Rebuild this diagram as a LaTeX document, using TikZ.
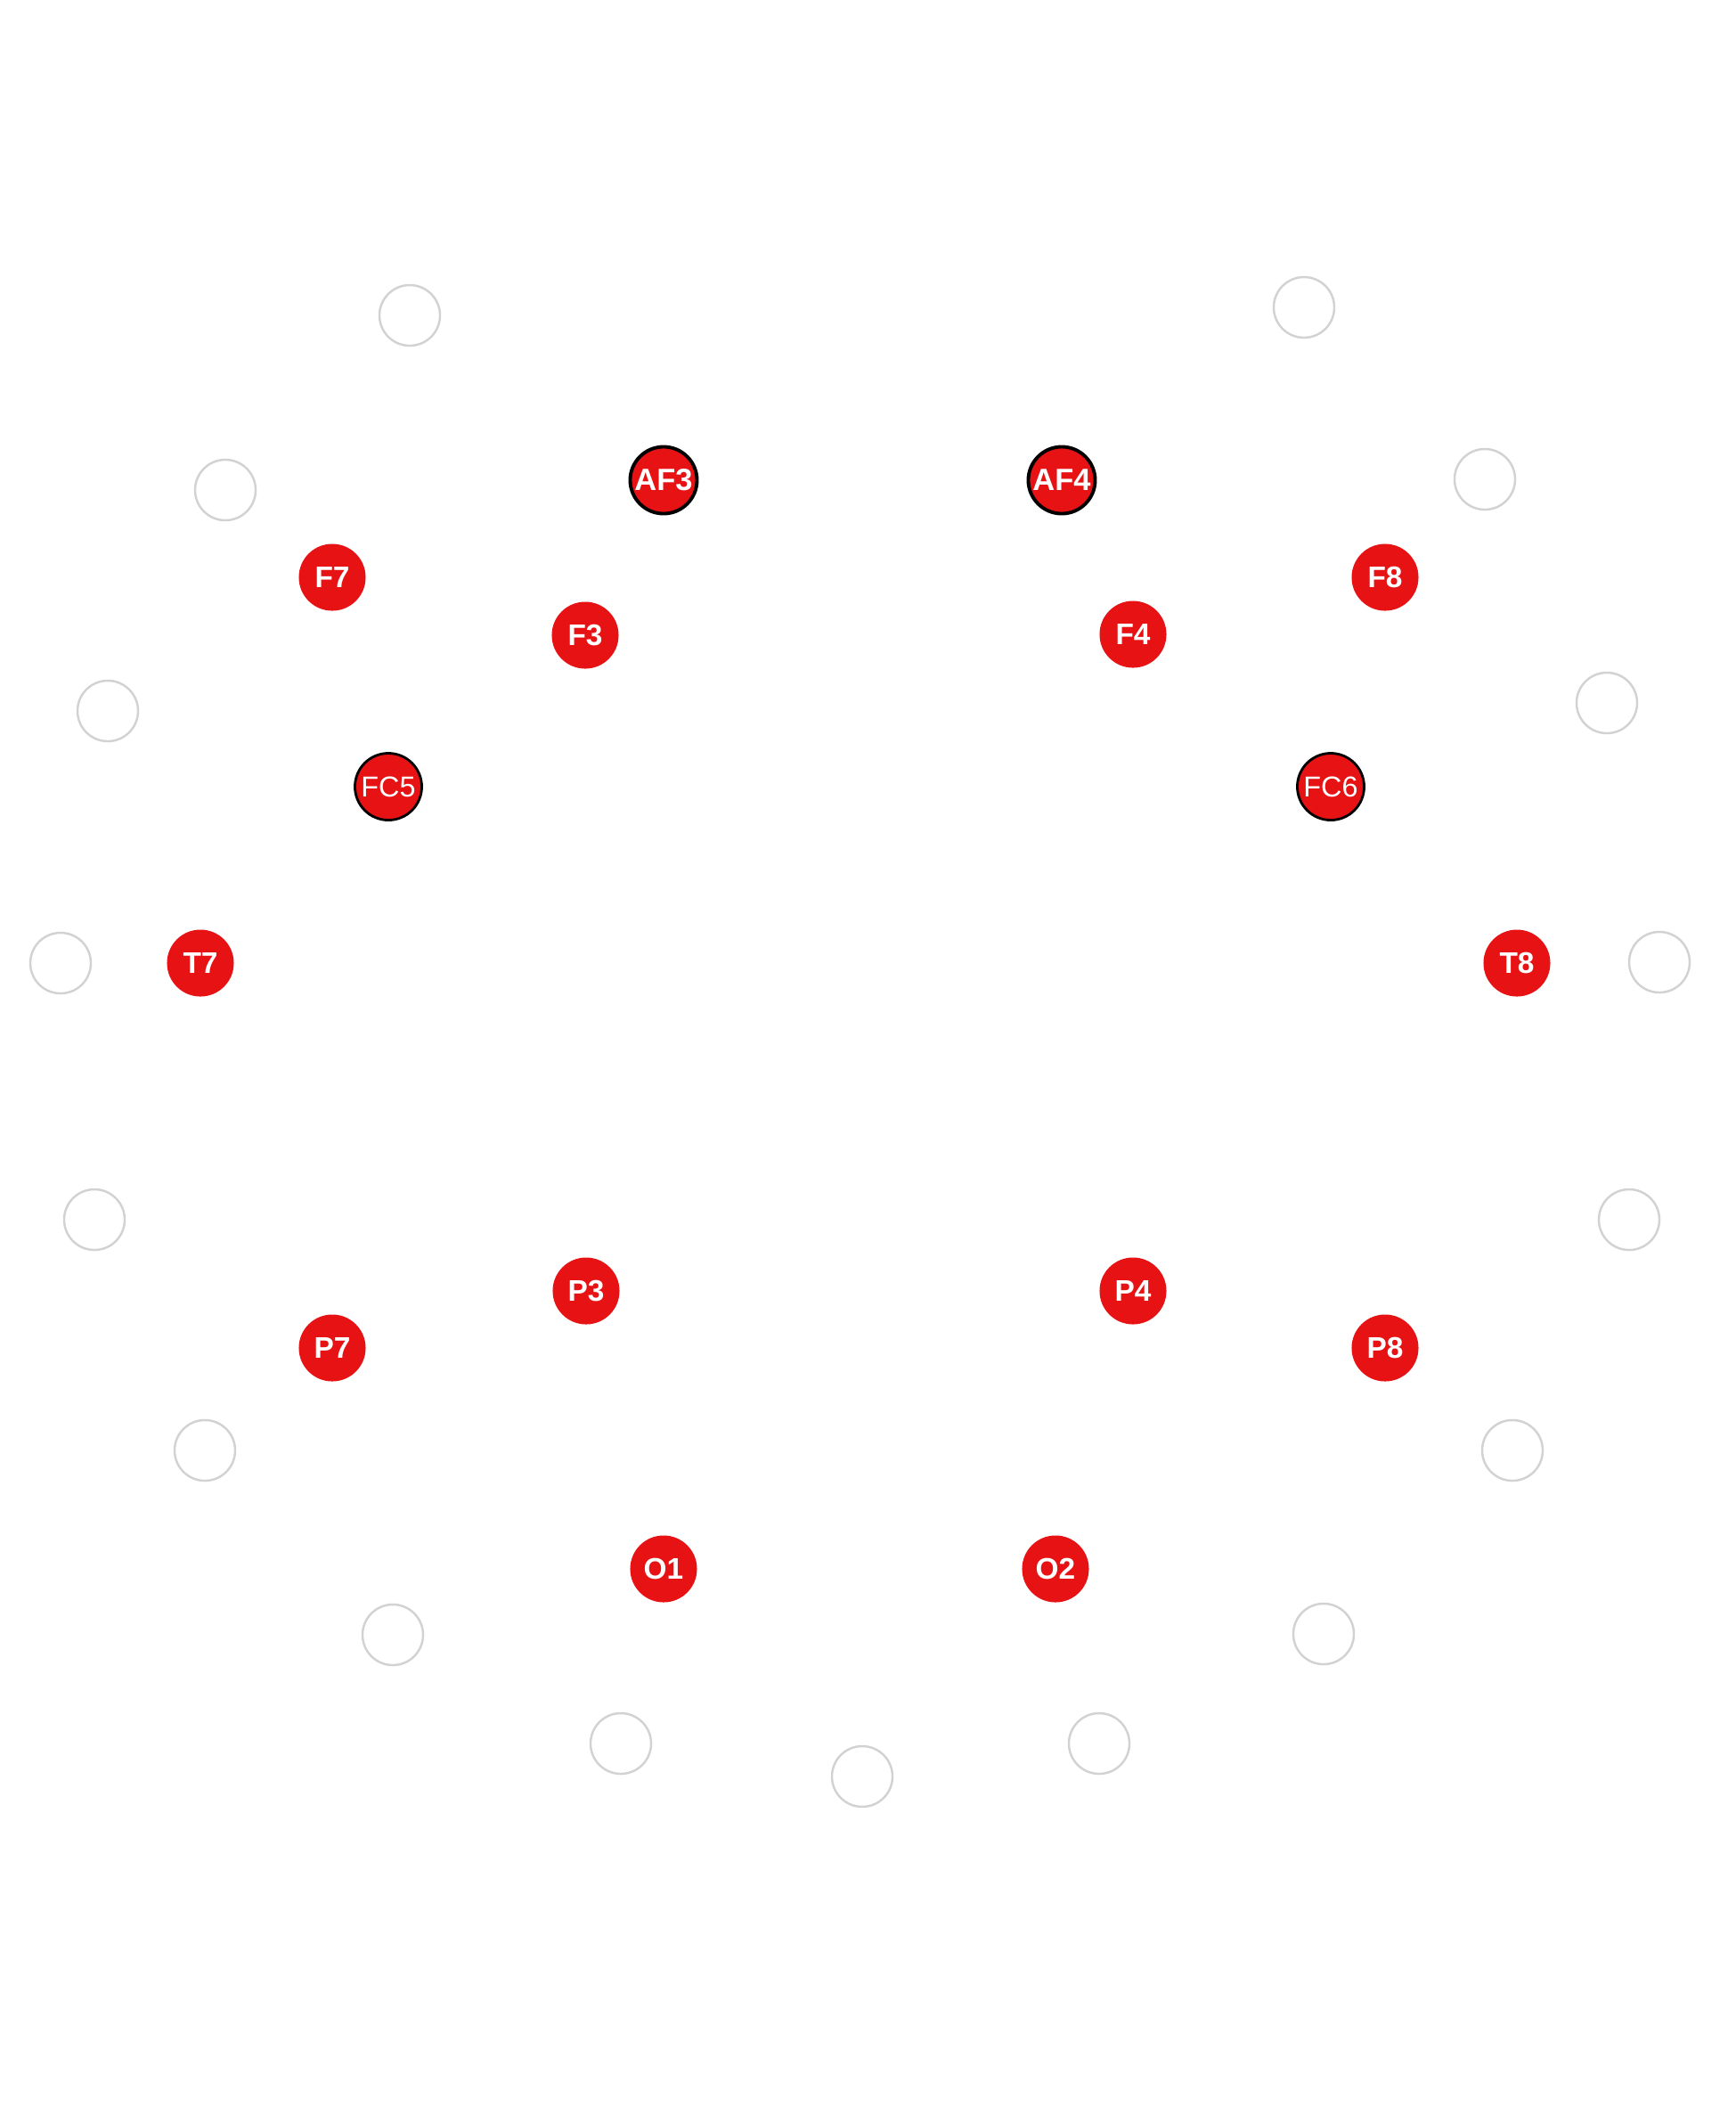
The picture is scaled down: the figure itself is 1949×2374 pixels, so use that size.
\documentclass[tikz,border=0pt]{standalone}
\usepackage{fontspec}
\setmainfont{Liberation Sans}
\usepackage{tikz}
\usetikzlibrary{positioning}
\definecolor{elecred}{RGB}{230,18,20}
\definecolor{ringgray}{RGB}{212,210,208}

\begin{document}
\begin{tikzpicture}[
  x=0.01cm, y=-0.01cm,
  elec/.style={circle, fill=elecred, text=white, inner sep=0pt,
               minimum size=0.75cm, font=\fontsize{9.5}{10}\selectfont\bfseries},
  rand/.style={elec, draw=black, line width=1.1pt},
  ring/.style={circle, draw=ringgray, line width=0.7pt, inner sep=0pt,
               minimum size=0.68cm}
]
\useasboundingbox (0,0) rectangle (1949,2374);

% ---------- freie Positionen (grau) -------------------------------
\node[ring] (r1)  at (460,354)   {};
\node[ring] (r2)  at (1464,345)  {};
\node[ring] (r3)  at (253,550)   {};
\node[ring] (r4)  at (1667,538)  {};
\node[ring] (r5)  at (121,798)   {};
\node[ring] (r6)  at (1804,789)  {};
\node[ring] (r7)  at (68,1081)   {};
\node[ring] (r8)  at (1863,1080) {};
\node[ring] (r9)  at (106,1369)  {};
\node[ring] (r10) at (1829,1369) {};
\node[ring] (r11) at (230,1628)  {};
\node[ring] (r12) at (1698,1628) {};
\node[ring] (r13) at (441,1835)  {};
\node[ring] (r14) at (1486,1834) {};
\node[ring] (r15) at (697,1957)  {};
\node[ring] (r16) at (968,1994)  {};
\node[ring] (r17) at (1234,1957) {};

% ---------- Elektroden mit Rand ------------------------------------
\node[rand, font=\fontsize{9.8}{11}\selectfont\bfseries] (AF3) at (745,539)  {AF3};
\node[rand, font=\fontsize{9.8}{11}\selectfont\bfseries] (AF4) at (1192,539) {AF4};
\node[rand, line width=0.8pt, font=\fontsize{9.2}{10}\selectfont] (FC5) at (436,883)  {FC5};
\node[rand, line width=0.8pt, font=\fontsize{9.2}{10}\selectfont] (FC6) at (1494,883) {FC6};

% ---------- Elektroden ohne Rand -----------------------------------
\node[elec] (F7) at (373,648)   {F7};
\node[elec] (F3) at (657,713)   {F3};
\node[elec] (F4) at (1272,712)  {F4};
\node[elec] (F8) at (1555,648)  {F8};
\node[elec] (T7) at (225,1081)  {T7};
\node[elec] (T8) at (1703,1081) {T8};
\node[elec] (P3) at (658,1449)  {P3};
\node[elec] (P4) at (1272,1449) {P4};
\node[elec] (P7) at (373,1513)  {P7};
\node[elec] (P8) at (1555,1513) {P8};
\node[elec] (O1) at (745,1761)  {O1};
\node[elec] (O2) at (1185,1761) {O2};

\end{tikzpicture}
\end{document}
